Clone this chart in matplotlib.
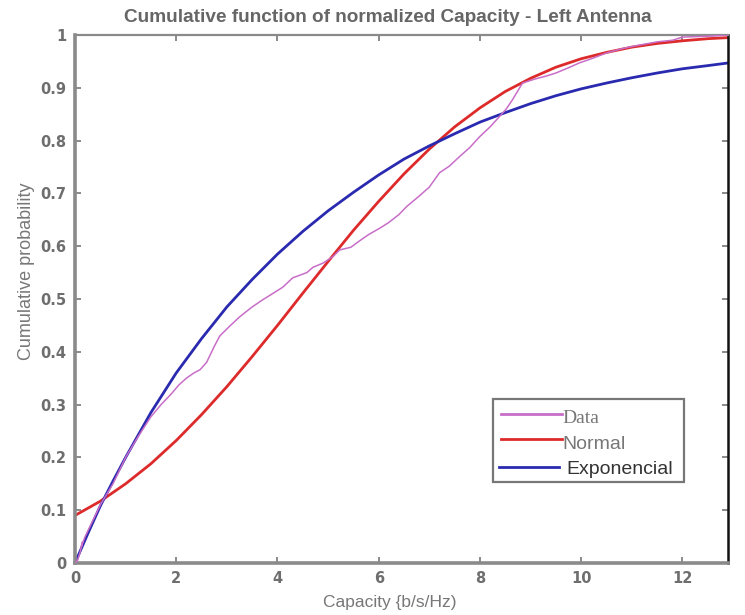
import matplotlib
matplotlib.use("Agg")
import matplotlib.pyplot as plt
from matplotlib.lines import Line2D
from matplotlib.patches import Rectangle

# Empirical CDF of measured capacity (b/s/Hz)
data_x = [0.0, 0.05, 0.1, 0.15, 0.12, 0.2, 0.3, 0.5, 0.75, 1.0, 1.25, 1.5, 1.7, 1.9,
          2.05, 2.2, 2.35, 2.47, 2.6, 2.75, 2.86, 3.05, 3.25, 3.5, 3.7, 3.9, 4.1,
          4.3, 4.58, 4.7, 4.9, 5.09, 5.23, 5.45, 5.62, 5.8, 6.02, 6.2, 6.4, 6.55,
          6.8, 7.0, 7.2, 7.4, 7.6, 7.8, 7.99, 8.2, 8.38, 8.52, 8.64, 8.84, 9.1,
          9.3, 9.5, 9.75, 9.96, 10.2, 10.5, 10.8, 11.1, 11.5, 11.8, 12.0, 12.3,
          12.6, 12.9]
data_y = [0.0, 0.005, 0.02, 0.04, 0.03, 0.05, 0.07, 0.11, 0.15, 0.2, 0.24, 0.277,
          0.3, 0.32, 0.337, 0.35, 0.36, 0.366, 0.38, 0.41, 0.43, 0.448, 0.466,
          0.485, 0.498, 0.51, 0.522, 0.54, 0.55, 0.56, 0.568, 0.58, 0.593, 0.598,
          0.61, 0.622, 0.634, 0.645, 0.66, 0.675, 0.695, 0.712, 0.739, 0.752,
          0.77, 0.787, 0.807, 0.826, 0.845, 0.86, 0.877, 0.909, 0.917, 0.922,
          0.928, 0.938, 0.947, 0.955, 0.966, 0.974, 0.98, 0.987, 0.99, 0.996,
          0.997, 0.998, 1.0]

# Fitted normal CDF
normal_x = [0.0, 0.5, 1.0, 1.5, 2.0, 2.5, 3.0, 3.5, 4.0, 4.5, 5.0, 5.5, 6.0, 6.5,
            7.0, 7.5, 8.0, 8.5, 9.0, 9.5, 10.0, 10.5, 11.0, 11.5, 12.0, 12.5, 12.9]
normal_y = [0.09, 0.117, 0.15, 0.188, 0.232, 0.281, 0.334, 0.391, 0.45, 0.511,
            0.571, 0.63, 0.685, 0.737, 0.784, 0.826, 0.862, 0.893, 0.918, 0.939,
            0.955, 0.967, 0.977, 0.984, 0.989, 0.993, 0.995]

# Fitted exponential CDF
expo_x = [0.0, 0.25, 0.5, 0.75, 1.0, 1.5, 2.0, 2.5, 3.0, 3.5, 4.0, 4.5, 5.0, 5.5,
          6.0, 6.5, 7.0, 7.5, 8.0, 8.5, 9.0, 9.5, 10.0, 10.5, 11.0, 11.5, 12.0,
          12.5, 12.9]
expo_y = [0.0, 0.055, 0.108, 0.155, 0.2, 0.285, 0.36, 0.425, 0.485, 0.537, 0.585,
          0.628, 0.667, 0.702, 0.735, 0.765, 0.79, 0.813, 0.835, 0.853, 0.87,
          0.885, 0.898, 0.909, 0.919, 0.928, 0.936, 0.942, 0.947]

x_ticks = [0, 2, 4, 6, 8, 10, 12]
y_ticks = [0, 0.1, 0.2, 0.3, 0.4, 0.5, 0.6, 0.7, 0.8, 0.9, 1]
y_tick_labels = ["0", "0.1", "0.2", "0.3", "0.4", "0.5", "0.6", "0.7", "0.8", "0.9", "1"]

series_labels = ["Data", "Normal", "Exponencial"]
series_colors = ["#c86ec8", "#dd2a2a", "#2a2ab0"]

gray = "#6e6e6e"

fig = plt.figure(figsize=(7.45, 6.15), dpi=100)
ax = fig.add_axes([0.1007, 0.0846, 0.8765, 0.8585])

ax.plot(data_x, data_y, color=series_colors[0], lw=1.1, zorder=3)
ax.plot(normal_x, normal_y, color=series_colors[1], lw=2.0, zorder=2)
ax.plot(expo_x, expo_y, color=series_colors[2], lw=2.0, zorder=2)

ax.set_xlim(0, 12.9)
ax.set_ylim(0, 1)
ax.set_xticks(x_ticks)
ax.set_yticks(y_ticks)
ax.set_yticklabels(y_tick_labels)
ax.tick_params(direction="in", top=True, right=True, length=4, width=1.2,
               colors="#777777", labelcolor=gray, pad=6)
for lab in ax.get_xticklabels() + ax.get_yticklabels():
    lab.set_fontweight("bold")
    lab.set_fontsize(10.5)
    lab.set_family("DejaVu Sans")

for side in ("left", "bottom"):
    ax.spines[side].set_color("#8a8a8a")
    ax.spines[side].set_linewidth(2.6)
ax.spines["top"].set_color("#8a8a8a")
ax.spines["top"].set_linewidth(1.6)
ax.spines["right"].set_color("#111111")
ax.spines["right"].set_linewidth(1.8)

# Title, axis labels
fig.text(388 / 745, 1 - 17 / 615,
         "Cumulative function of normalized Capacity - Left Antenna",
         family="Liberation Sans", fontsize=13.7, fontweight="bold",
         color="#666666", ha="center", va="center")
fig.text(390 / 745, 1 - 603 / 615, "Capacity {b/s/Hz)", family="Liberation Sans",
         fontsize=12.5, color="#777777", ha="center", va="center")
fig.text(27 / 745, 1 - 271 / 615, "Cumulative probability", family="Liberation Sans",
         fontsize=13, color="#777777", ha="center", va="center", rotation=90)

# Legend box drawn in axes coordinates
tr = ax.transAxes
ax.add_patch(Rectangle((0.640, 0.153), 0.293, 0.158, transform=tr, fill=True,
                       facecolor="white", edgecolor="#777777", lw=1.6, zorder=5))
handle_y = [0.282, 0.235, 0.182]
handle_x = [(0.652, 0.746), (0.652, 0.746), (0.649, 0.741)]
text_x = [0.747, 0.747, 0.753]
text_y = [0.274, 0.224, 0.177]
text_family = ["Liberation Serif", "Liberation Sans", "Liberation Sans"]
text_color = ["#777777", "#777777", "#333333"]
text_size = [14, 14, 14]
for i, lab in enumerate(series_labels):
    ax.add_line(Line2D(handle_x[i], [handle_y[i], handle_y[i]], transform=tr,
                       color=series_colors[i], lw=2.0, zorder=6))
    ax.text(text_x[i], text_y[i], lab, transform=tr, family=text_family[i],
            fontsize=text_size[i], color=text_color[i], ha="left", va="center",
            zorder=7)

fig.savefig("out.png", dpi=100)
